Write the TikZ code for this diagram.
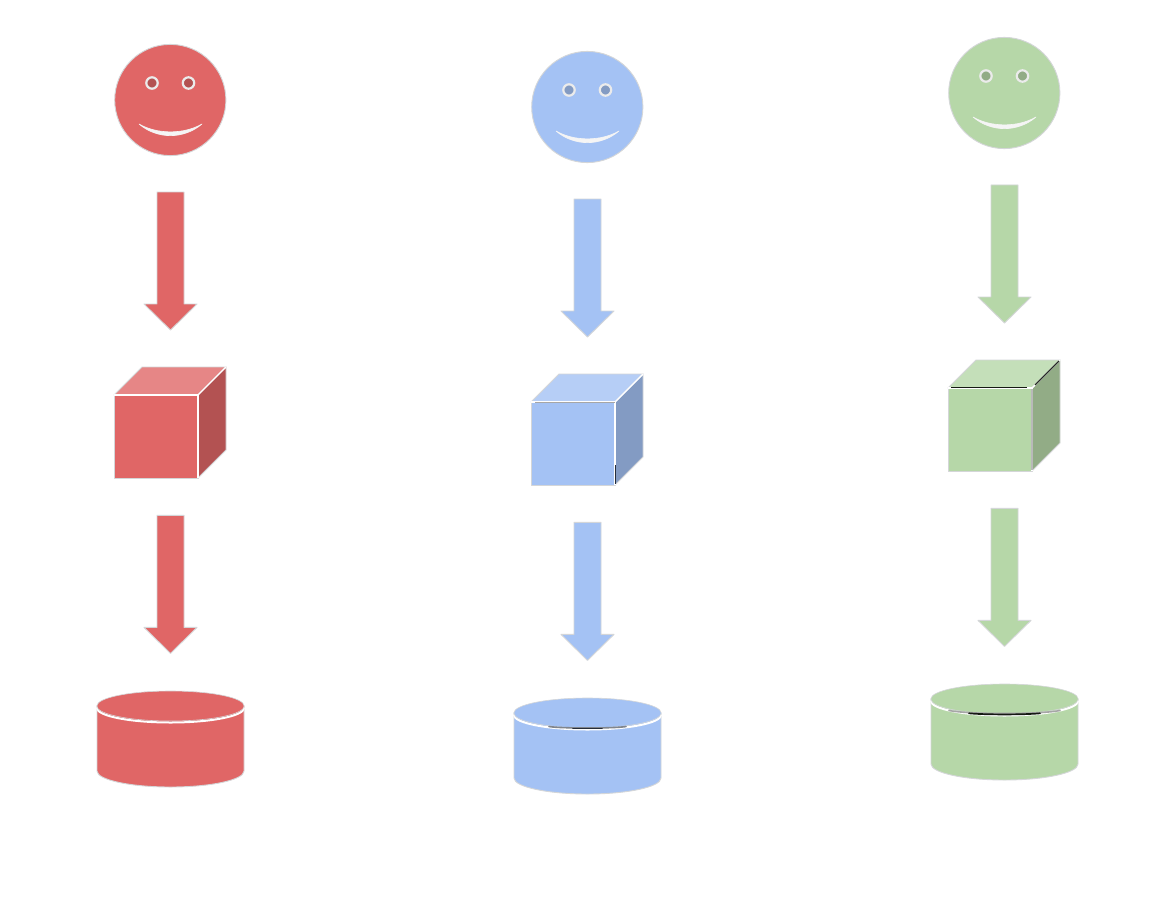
\documentclass[tikz,border=0pt]{standalone}
\definecolor{redF}{HTML}{E06666}\definecolor{redT}{HTML}{E68686}\definecolor{redS}{HTML}{B35252}
\definecolor{bluF}{HTML}{A4C2F4}\definecolor{bluT}{HTML}{B6CEF6}\definecolor{bluS}{HTML}{839BC3}
\definecolor{greF}{HTML}{B6D7A8}\definecolor{greT}{HTML}{C4DFB9}\definecolor{greS}{HTML}{92AC86}
\definecolor{edgeG}{HTML}{D4D6D8}
\tikzset{
  shapefill/.style={fill=#1,draw=edgeG,line width=0.9pt,line join=round},
  rimline/.style={draw=white,line width=1.5pt,line cap=round},
}
% #1 x shift, #2 y shift, #3 face, #4 top, #5 side
\newcommand{\stackcol}[5]{%
 \begin{scope}[shift={(#1,#2)}]
  % face
  \path[shapefill=#3] (170.3,100) circle[radius=55.6];
  \foreach \ex in {152,188.5}{
    \path[fill=#3!80!black,draw=white!92!black,line width=2.2pt] (\ex,83) circle[radius=5.7];
  }
  \path[fill=white!96!black,draw=white!96!black,line width=0.6pt,line join=round] (139,124) .. controls (157,139.5) and (184,139.5) .. (202,124) .. controls (184,134.5) and (157,134.5) .. cycle;
  % arrows
  \foreach \ay in {0,323.4}{
    \begin{scope}[shift={(0,\ay)}]
    \path[shapefill=#3] (157,192) -- (184,192) -- (184,304) -- (197,304) -- (170.5,330) -- (144,304) -- (157,304) -- cycle;
    \end{scope}
  }
  % cube
  \path[shapefill=#4] (114,395) -- (142,367) -- (226,367) -- (198,395) -- cycle;
  \path[shapefill=#5] (198,395) -- (226,367) -- (226,450) -- (198,478) -- cycle;
  \path[shapefill=#3] (114,395) rectangle (198,478);
  \draw[rimline,line width=1.4pt,line cap=butt] (114,395) -- (198,395) -- (198,478);
  \draw[rimline,line width=1.4pt,line cap=butt] (198,395) -- (226,367);
  % cylinder
  \path[shapefill=#3] (97,706) -- (97,771) arc[start angle=180,end angle=0,x radius=73.5,y radius=16] -- (244,706) -- cycle;
  \draw[rimline,line width=2pt,line cap=butt] (97,708) arc[start angle=180,end angle=0,x radius=73.5,y radius=14.5];
  \path[fill=#3,draw=edgeG,line width=0.6pt] (170.5,706) ellipse[x radius=73.7,y radius=15];
 \end{scope}}
\begin{document}
\begin{tikzpicture}[x=1pt,y=-1pt]
\useasboundingbox[fill=white] (0,0) rectangle (1166,904);
\stackcol{0}{0}{redF}{redT}{redS}
\stackcol{417}{7}{bluF}{bluT}{bluS}
\stackcol{834}{-7}{greF}{greT}{greS}
% blue details
\begin{scope}[shift={(417,7)}]
  \draw[line width=1.6pt,draw=gray!80!bluS,line cap=round] (132,719.5) .. controls (142,721.5) and (199,721.5) .. (209,719.5);
  \draw[line width=1.6pt,draw=black!70!bluS,line cap=round] (156,721.6) -- (185,721.6);
  \draw[line width=1pt,draw=black!70!bluS] (198,458) -- (198,477);
  \draw[line width=1pt,draw=gray!70] (118,395) -- (198,395);
\end{scope}
% green details
\begin{scope}[shift={(834,-7)}]
  \draw[line width=1.6pt,draw=gray!70,line cap=round] (115,717.5) .. controls (135,721.5) and (206,721.5) .. (226,717.5);
  \draw[line width=1.7pt,draw=black!85!greS,line cap=round] (135,720.3) .. controls (150,721.8) and (191,721.8) .. (206,720.3);
  \draw[line width=1.4pt,draw=black!85!greS] (117,394.5) -- (193,394.5);
  \draw[line width=1.2pt,draw=black!75!greS] (201,392) -- (225,368);
  \draw[line width=1.2pt,draw=gray!55] (198,396) -- (198,477);
\end{scope}
\end{tikzpicture}
\end{document}
